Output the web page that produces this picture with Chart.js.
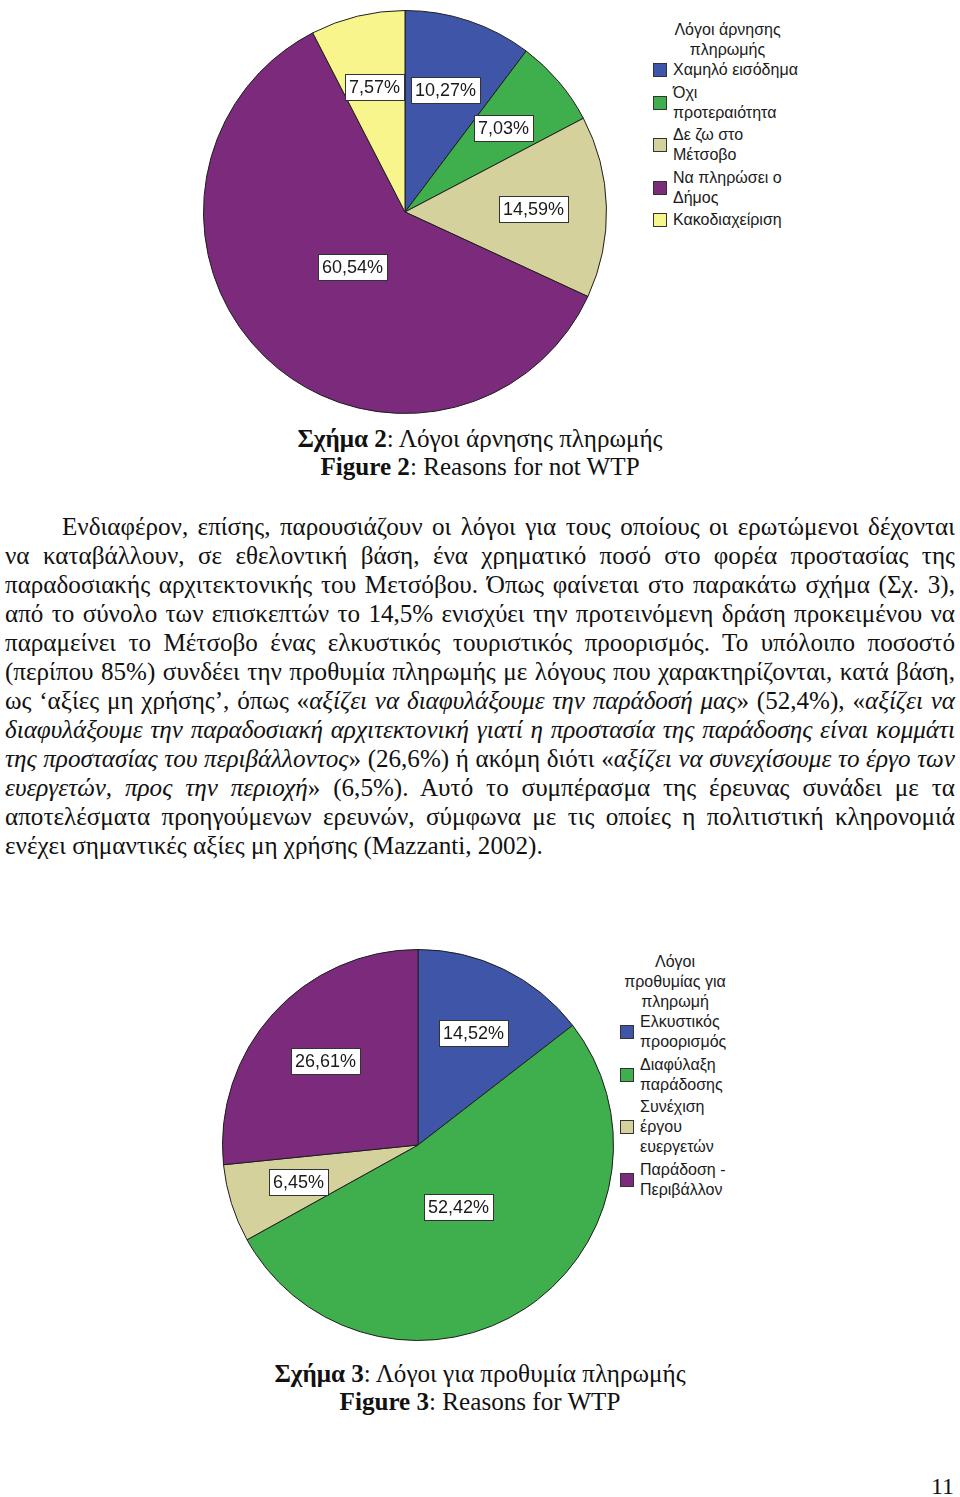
<!DOCTYPE html>
<html lang="el">
<head>
<meta charset="utf-8">
<script src="https://cdn.jsdelivr.net/npm/chart.js@4.4.1/dist/chart.umd.min.js"></script>
<style>
  html, body { margin:0; padding:0; background:#fff; }
  #page { position:relative; width:960px; height:1497px; overflow:hidden; background:#fff; color:#111; }
  .pie { position:absolute; }
  .legend { position:absolute; font:16px "Liberation Sans", Arial, sans-serif; color:#1a1a1a; line-height:20px; white-space:nowrap; }
  .legend .ttl { text-align:center; }
  .legend .item { position:relative; margin-top:2.5px; }
  .legend .item:first-of-type { margin-top:0; }
  .legend .sw { position:absolute; width:12px; height:12px; border:1px solid #333; top:50%; margin-top:-7px; }
  .serif { font-family:"Liberation Serif", "Times New Roman", serif; }
  .cap { position:absolute; left:0; width:960px; text-align:center; line-height:28px; }
  #para { position:absolute; left:5px; top:512px; width:950px; line-height:29px; }
  #para div { text-align:justify; text-align-last:justify; }
  #para div.last { text-align-last:left; }
  #pnum { position:absolute; right:6px; top:1473px; font-size:22px; }
</style>
</head>
<body>
<div id="page">
  <div class="pie" style="left:203px; top:10px; width:404px; height:404px;"><canvas id="pie1"></canvas></div>
  <div class="legend" id="leg1" style="left:650px; top:20px; width:155px;"></div>

  <div class="cap serif" style="top:425px;"><b>Σχήμα 2</b>: Λόγοι άρνησης πληρωμής<br><b>Figure 2</b>: Reasons for not WTP</div>

  <div id="para" class="serif">
    <div style="text-indent:57px;">Ενδιαφέρον, επίσης, παρουσιάζουν οι λόγοι για τους οποίους οι ερωτώμενοι δέχονται</div>
    <div>να καταβάλλουν, σε εθελοντική βάση, ένα χρηματικό ποσό στο φορέα προστασίας της</div>
    <div>παραδοσιακής αρχιτεκτονικής του Μετσόβου. Όπως φαίνεται στο παρακάτω σχήμα (Σχ. 3),</div>
    <div>από το σύνολο των επισκεπτών το 14,5% ενισχύει την προτεινόμενη δράση προκειμένου να</div>
    <div>παραμείνει το Μέτσοβο ένας ελκυστικός τουριστικός προορισμός. Το υπόλοιπο ποσοστό</div>
    <div>(περίπου 85%) συνδέει την προθυμία πληρωμής με λόγους που χαρακτηρίζονται, κατά βάση,</div>
    <div>ως ‘αξίες μη χρήσης’, όπως «<i>αξίζει να διαφυλάξουμε την παράδοσή μας</i>» (52,4%), «<i>αξίζει να</i></div>
    <div><i>διαφυλάξουμε την παραδοσιακή αρχιτεκτονική γιατί η προστασία της παράδοσης είναι κομμάτι</i></div>
    <div><i>της προστασίας του περιβάλλοντος</i>» (26,6%) ή ακόμη διότι «<i>αξίζει να συνεχίσουμε το έργο των</i></div>
    <div><i>ευεργετών, προς την περιοχή</i>» (6,5%). Αυτό το συμπέρασμα της έρευνας συνάδει με τα</div>
    <div>αποτελέσματα προηγούμενων ερευνών, σύμφωνα με τις οποίες η πολιτιστική κληρονομιά</div>
    <div class="last"><span id="lastLine">ενέχει σημαντικές αξίες μη χρήσης (Mazzanti, 2002).</span></div>
  </div>

  <div class="pie" style="left:222px; top:949px; width:392px; height:392px;"><canvas id="pie2"></canvas></div>
  <div class="legend" id="leg2" style="left:617px; top:952px; width:116px;"></div>

  <div class="cap serif" style="top:1360px;"><b>Σχήμα 3</b>: Λόγοι για προθυμία πληρωμής<br><b>Figure 3</b>: Reasons for WTP</div>

  <div id="pnum" class="serif">11</div>
</div>

<script>
// Figure 2 - reasons for not paying
const title1 = ['Λόγοι άρνησης', 'πληρωμής'];
const cats1 = [['Χαμηλό εισόδημα'], ['Όχι', 'προτεραιότητα'], ['Δε ζω στο', 'Μέτσοβο'], ['Να πληρώσει ο', 'Δήμος'], ['Κακοδιαχείριση']];
const vals1 = [10.27, 7.03, 14.59, 60.54, 7.57];
const colors1 = ['#3f55a7', '#3fae4c', '#d5d19c', '#7b2a7c', '#f8f58c'];

// Figure 3 - reasons for paying
const title2 = ['Λόγοι', 'προθυμίας για', 'πληρωμή'];
const cats2 = [['Ελκυστικός', 'προορισμός'], ['Διαφύλαξη', 'παράδοσης'], ['Συνέχιση', 'έργου', 'ευεργετών'], ['Παράδοση -', 'Περιβάλλον']];
const vals2 = [14.52, 52.42, 6.45, 26.61];
const colors2 = ['#3f55a7', '#3fae4c', '#d5d19c', '#7b2a7c'];

// fit the body text size to the width of the last (unjustified) line
const lastLine = document.getElementById('lastLine');
document.querySelectorAll('.serif').forEach(el=>el.style.fontSize = '24px');
const fs = 24 * 538 / lastLine.getBoundingClientRect().width;
document.getElementById('para').style.fontSize = fs + 'px';
document.querySelectorAll('.cap').forEach(el=>el.style.fontSize = fs + 'px');

// white boxed percentage labels inside the slices
const boxLabels = {
  id:'boxLabels',
  afterDatasetsDraw(chart){
    const ctx = chart.ctx;
    const meta = chart.getDatasetMeta(0);
    const data = chart.data.datasets[0].data;
    const total = data.reduce((a,b)=>a+b, 0);
    ctx.save();
    ctx.font = '18px "Liberation Sans", Arial, sans-serif';
    ctx.textAlign = 'center';
    ctx.textBaseline = 'middle';
    meta.data.forEach((arc, i)=>{
      const p = arc.getProps(['x','y','startAngle','endAngle','outerRadius'], true);
      const share = data[i] / total;
      const f = share > 0.5 ? 0.38 : 0.64;
      const a = (p.startAngle + p.endAngle) / 2;
      const lx = p.x + Math.cos(a) * p.outerRadius * f;
      const ly = p.y + Math.sin(a) * p.outerRadius * f;
      const txt = data[i].toFixed(2).replace('.', ',') + '%';
      const w = Math.round(ctx.measureText(txt).width + 8), h = 26;
      const bx = Math.round(lx - w/2), by = Math.round(ly - h/2);
      ctx.fillStyle = '#fff';
      ctx.fillRect(bx, by, w, h);
      ctx.strokeStyle = '#333';
      ctx.lineWidth = 1;
      ctx.strokeRect(bx + 0.5, by + 0.5, w, h);
      ctx.fillStyle = '#1a1a1a';
      ctx.fillText(txt, bx + w/2, by + h/2 + 1);
    });
    ctx.restore();
  }
};

function makePie(id, labels, values, colors){
  return new Chart(document.getElementById(id), {
    type:'pie',
    data:{
      labels,
      datasets:[{
        data:values,
        backgroundColor:colors,
        borderColor:'#1e1e1e',
        borderWidth:1
      }]
    },
    options:{
      responsive:true,
      maintainAspectRatio:false,
      animation:false,
      layout:{padding:0},
      plugins:{
        legend:{display:false},
        tooltip:{enabled:false}
      }
    },
    plugins:[boxLabels]
  });
}

// HTML legend built from the chart's own labels and colours
function buildLegend(chart, el, title){
  const ttl = document.createElement('div');
  ttl.className = 'ttl';
  ttl.innerHTML = title.join('<br>');
  el.appendChild(ttl);
  const box = document.createElement('div');
  el.appendChild(box);
  chart.data.labels.forEach((lab, i)=>{
    const item = document.createElement('div');
    item.className = 'item';
    item.style.paddingLeft = '23px';
    const sw = document.createElement('span');
    sw.className = 'sw';
    sw.style.left = '3px';
    sw.style.background = chart.data.datasets[0].backgroundColor[i];
    item.appendChild(sw);
    const t = document.createElement('span');
    t.innerHTML = [].concat(lab).join('<br>');
    item.appendChild(t);
    box.appendChild(item);
  });
}

const chart1 = makePie('pie1', cats1, vals1, colors1);
const chart2 = makePie('pie2', cats2, vals2, colors2);
buildLegend(chart1, document.getElementById('leg1'), title1);
buildLegend(chart2, document.getElementById('leg2'), title2);
</script>
</body>
</html>
